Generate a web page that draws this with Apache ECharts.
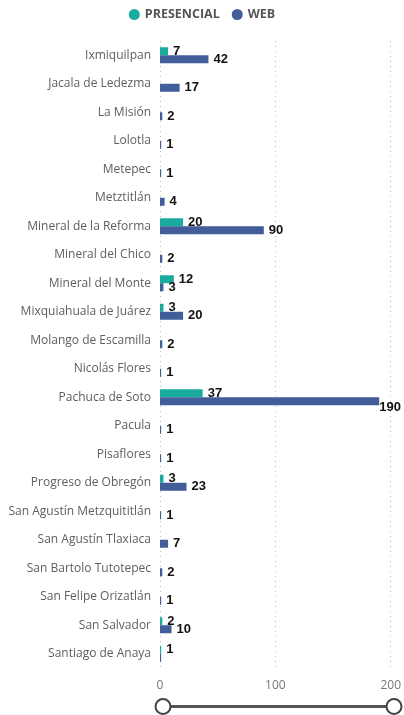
<!DOCTYPE html>
<html>
<head>
<meta charset="utf-8">
<script src="https://cdn.jsdelivr.net/npm/echarts@6/dist/echarts.min.js"></script>
<style>
  html, body { margin: 0; padding: 0; background: #fff; }
  #chart { width: 404px; height: 715px; }
</style>
</head>
<body>
<div id="chart"></div>
<script>
// municipios
const categories = [
  'Ixmiquilpan', 'Jacala de Ledezma', 'La Misión', 'Lolotla', 'Metepec',
  'Metztitlán', 'Mineral de la Reforma', 'Mineral del Chico', 'Mineral del Monte',
  'Mixquiahuala de Juárez', 'Molango de Escamilla', 'Nicolás Flores',
  'Pachuca de Soto', 'Pacula', 'Pisaflores', 'Progreso de Obregón',
  'San Agustín Metzquititlán', 'San Agustín Tlaxiaca', 'San Bartolo Tutotepec',
  'San Felipe Orizatlán', 'San Salvador', 'Santiago de Anaya'
];
// null = sin registro
const presencial = [7, null, null, null, null, null, 20, null, 12, 3, null, null, 37, null, null, 3, null, null, null, null, 2, 1];
const web = [42, 17, 2, 1, 1, 4, 90, 2, 3, 20, 2, 1, 190, 1, 1, 23, 1, 7, 2, 1, 10, 1];
const xTicks = [0, 100, 200];

const myChart = echarts.init(document.getElementById('chart'));

const labelStyle = {
  show: true,
  position: 'right',
  distance: 5,
  color: '#111',
  fontWeight: 'bold',
  fontSize: 13,
  fontFamily: 'Liberation Sans, Arial, sans-serif'
};

// si la etiqueta se sale del lienzo, la recorre hacia adentro (como Power BI)
// y oculta las que se enciman
const keepInside = (p) => {
  const r = p.labelRect;
  const lim = 401;
  if (r.x + r.width > lim) return { x: lim - r.width, hideOverlap: true };
  return { hideOverlap: true };
};

const option = {
  animation: false,
  legend: {
    top: 3,
    left: 'center',
    icon: 'circle',
    itemWidth: 11,
    itemHeight: 11,
    itemGap: 12,
    textStyle: { color: '#555', fontWeight: 'bold', fontSize: 12.5, fontFamily: 'Open Sans, sans-serif' },
    data: ['PRESENCIAL', 'WEB']
  },
  grid: { left: 160, right: 11, top: 41, bottom: 47 },
  xAxis: {
    type: 'value',
    min: xTicks[0],
    max: xTicks[xTicks.length - 1],
    interval: 100,
    axisLine: { show: false },
    axisTick: { show: false },
    axisLabel: { color: '#777', fontSize: 12, margin: 12, fontFamily: 'Open Sans, sans-serif' },
    splitLine: { show: true, lineStyle: { type: [1, 4], color: '#bbb' } }
  },
  yAxis: {
    type: 'category',
    inverse: true,
    data: categories,
    axisLine: { show: false },
    axisTick: { show: false },
    axisLabel: { color: '#605E5C', fontSize: 12, margin: 9, fontFamily: 'Open Sans, sans-serif' }
  },
  dataZoom: [{
    type: 'slider',
    xAxisIndex: 0,
    filterMode: 'none',
    left: 160,
    right: 11,
    bottom: 7,
    height: 3,
    start: 0,
    end: 100,
    showDetail: false,
    showDataShadow: false,
    brushSelect: false,
    moveHandleSize: 0,
    backgroundColor: 'transparent',
    borderColor: 'transparent',
    fillerColor: '#555',
    handleIcon: 'circle',
    handleSize: 15,
    handleStyle: { color: '#fff', borderColor: '#444', borderWidth: 2 },
    dataBackground: { lineStyle: { opacity: 0 }, areaStyle: { opacity: 0 } }
  }],
  series: [
    {
      name: 'PRESENCIAL',
      type: 'bar',
      data: presencial,
      barWidth: 8,
      barGap: '0%',
      itemStyle: { color: '#1AAB9F' },
      label: labelStyle,
      labelLayout: keepInside
    },
    {
      name: 'WEB',
      type: 'bar',
      data: web,
      barWidth: 8,
      barGap: '0%',
      itemStyle: { color: '#415E98' },
      label: labelStyle,
      labelLayout: keepInside
    }
  ]
};

myChart.setOption(option);
window.addEventListener('resize', () => myChart.resize());
</script>
</body>
</html>
